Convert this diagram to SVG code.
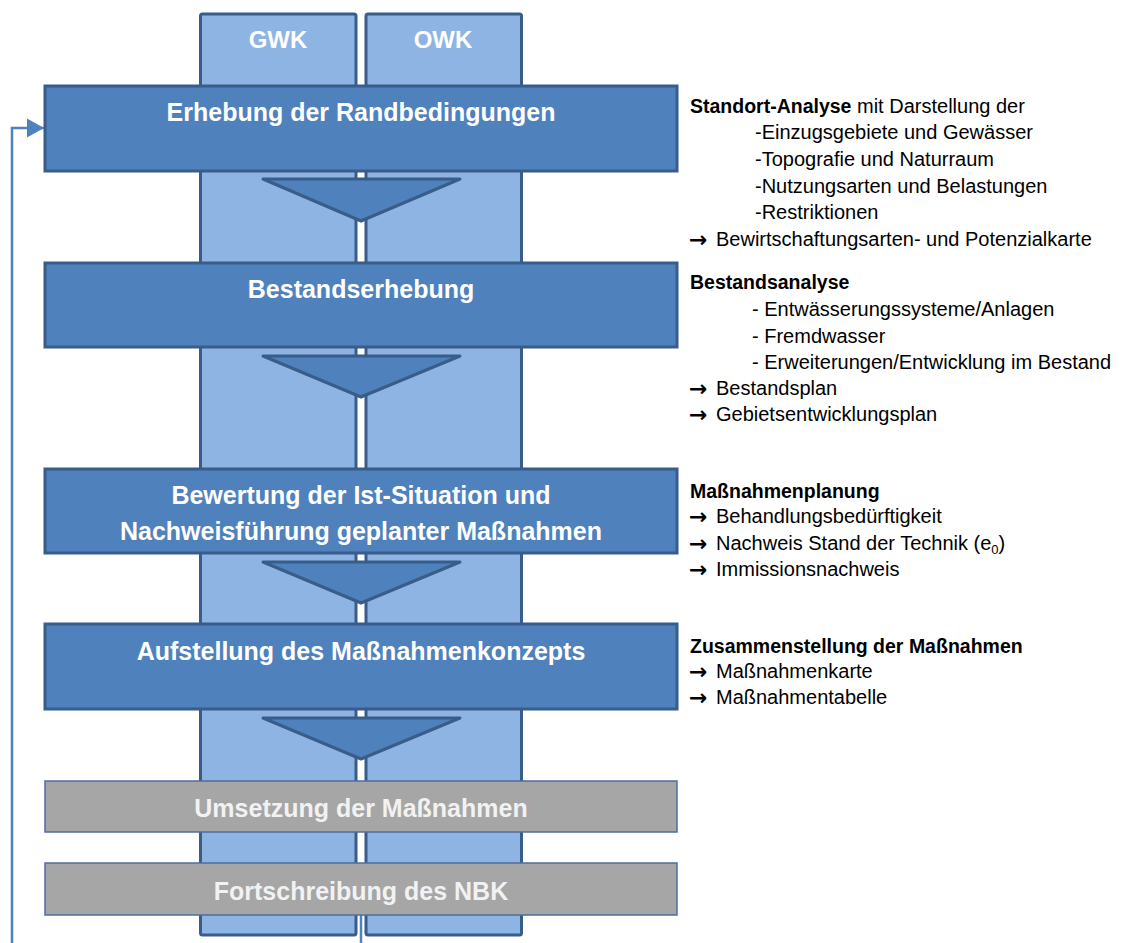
<svg xmlns="http://www.w3.org/2000/svg" width="1124" height="943" viewBox="0 0 1124 943">
<style>
.col{fill:#8EB4E3;stroke:#385D8A;stroke-width:3}
.box{fill:#4F81BD;stroke:#385D8A;stroke-width:3}
.gbox{fill:#A6A6A6;stroke:#4F6E9C;stroke-width:1.5}
.tri{fill:#4F81BD;stroke:#385D8A;stroke-width:3;stroke-linejoin:round}
.ttl{font-family:"Liberation Sans",Arial,sans-serif;font-weight:bold;font-size:25px;fill:#FFFFFF;text-anchor:middle}
.gttl{font-family:"Liberation Sans",Arial,sans-serif;font-weight:bold;font-size:25px;fill:#F2F2F2;text-anchor:middle}
.colt{font-family:"Liberation Sans",Arial,sans-serif;font-weight:bold;font-size:24px;fill:#FFFFFF;text-anchor:middle}
.rt{font-family:"Liberation Sans",Arial,sans-serif;font-size:20px;fill:#000000}
.b{font-weight:bold;font-size:19.5px}
.ar{font-family:"DejaVu Sans",sans-serif;font-size:22px;font-weight:bold;fill:#000000}
.fb{fill:none;stroke:#4F81BD;stroke-width:2.5}
</style>
<defs>
<marker id="arr" markerUnits="userSpaceOnUse" markerWidth="18" markerHeight="20" refX="17" refY="10" orient="auto">
<path d="M0,0.5 L17,10 L0,19.5 z" fill="#4F81BD"/>
</marker>
</defs>

<g id="columns">
<g id="col-gwk">
<rect class="col" x="200.5" y="14" width="155.5" height="921" rx="2"/>
<text class="colt" x="278" y="48">GWK</text>
</g>
<g id="col-owk">
<rect class="col" x="366" y="14" width="155.5" height="921" rx="2"/>
<text class="colt" x="443" y="48">OWK</text>
</g>
</g>

<g id="connectors">
<polygon class="tri" points="263,179 460,179 361,221"/>
<polygon class="tri" points="263,356 460,356 361,397"/>
<polygon class="tri" points="263,562 460,562 361,603"/>
<polygon class="tri" points="263,718 460,718 361,759"/>
<path class="fb" d="M361,915 V955 H12 V128 H44" marker-end="url(#arr)"/>
</g>

<g id="n1">
<rect class="box" x="45" y="86" width="632" height="85"/>
<text class="ttl" x="361" y="121">Erhebung der Randbedingungen</text>
</g>
<g id="n2">
<rect class="box" x="45" y="263" width="632" height="84"/>
<text class="ttl" x="361" y="298">Bestandserhebung</text>
</g>
<g id="n3">
<rect class="box" x="45" y="469" width="632" height="84"/>
<text class="ttl" x="361" y="504">Bewertung der Ist-Situation  und</text>
<text class="ttl" x="361" y="540">Nachweisführung geplanter Maßnahmen</text>
</g>
<g id="n4">
<rect class="box" x="45" y="624" width="632" height="85"/>
<text class="ttl" x="361" y="660">Aufstellung des Maßnahmenkonzepts</text>
</g>
<g id="n5">
<rect class="gbox" x="45" y="781" width="632" height="51"/>
<text class="gttl" x="361" y="817">Umsetzung der Maßnahmen</text>
</g>
<g id="n6">
<rect class="gbox" x="45" y="863" width="632" height="52"/>
<text class="gttl" x="361" y="900">Fortschreibung des NBK</text>
</g>

<g id="notes">
<text class="rt" x="690" y="113"><tspan class="b">Standort-Analyse</tspan> mit Darstellung der</text>
<text class="rt" x="755" y="139">-Einzugsgebiete und Gewässer</text>
<text class="rt" x="755" y="166">-Topografie und Naturraum</text>
<text class="rt" x="755" y="193">-Nutzungsarten und Belastungen</text>
<text class="rt" x="755" y="219">-Restriktionen</text>
<text class="ar" x="689" y="247">→</text><text class="rt" x="716" y="246">Bewirtschaftungsarten- und Potenzialkarte</text>

<text class="rt b" x="690" y="289">Bestandsanalyse</text>
<text class="rt" x="752" y="316">- Entwässerungssysteme/Anlagen</text>
<text class="rt" x="752" y="343">- Fremdwasser</text>
<text class="rt" x="752" y="369">- Erweiterungen/Entwicklung im Bestand</text>
<text class="ar" x="689" y="396">→</text><text class="rt" x="716" y="395">Bestandsplan</text>
<text class="ar" x="689" y="422">→</text><text class="rt" x="716" y="421">Gebietsentwicklungsplan</text>

<text class="rt b" x="690" y="498">Maßnahmenplanung</text>
<text class="ar" x="689" y="524">→</text><text class="rt" x="716" y="523">Behandlungsbedürftigkeit</text>
<text class="ar" x="689" y="551">→</text><text class="rt" x="716" y="550">Nachweis Stand der Technik (e<tspan font-size="13" dy="4">0</tspan><tspan dy="-4">)</tspan></text>
<text class="ar" x="689" y="577">→</text><text class="rt" x="716" y="576">Immissionsnachweis</text>

<text class="rt b" x="690" y="653">Zusammenstellung der Maßnahmen</text>
<text class="ar" x="689" y="679">→</text><text class="rt" x="716" y="678">Maßnahmenkarte</text>
<text class="ar" x="689" y="705">→</text><text class="rt" x="716" y="704">Maßnahmentabelle</text>
</g>
</svg>
